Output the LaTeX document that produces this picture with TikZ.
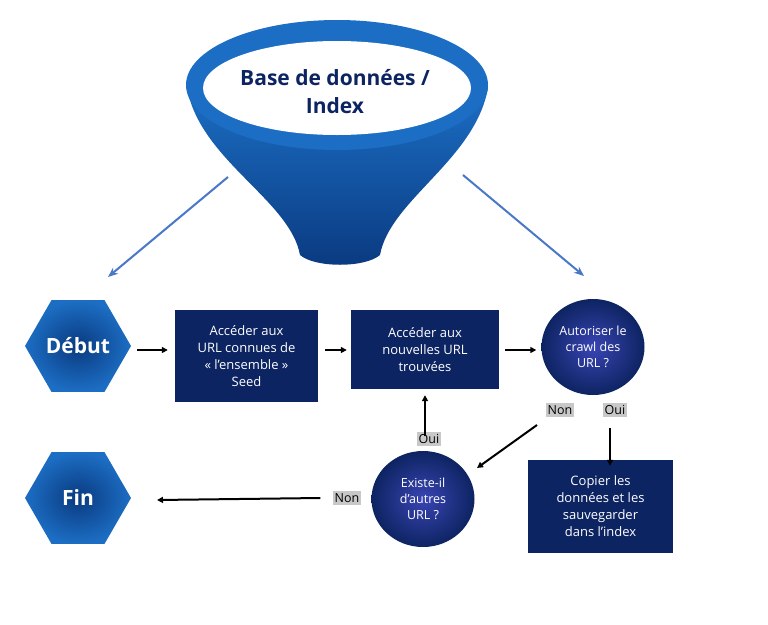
\documentclass[tikz,border=0pt]{standalone}
\usepackage{fontspec}
\setmainfont{Open Sans}
\usetikzlibrary{shapes.geometric,arrows.meta}
\definecolor{navy}{HTML}{0D2462}
\definecolor{hexblue}{HTML}{1C6EC4}
\definecolor{hexdark}{HTML}{0A3A80}
\definecolor{arrowblue}{HTML}{4A78C8}
\definecolor{labelgray}{HTML}{C8C8C8}
\begin{document}
\begin{tikzpicture}[
    x=1pt, y=-1pt,
    hexa/.style={regular polygon, regular polygon sides=6, minimum size=106pt, inner sep=0pt,
        inner color=hexdark, outer color=hexblue, text=white, font=\bfseries\fontsize{21}{24}\selectfont},
    boite/.style={fill=navy, text=white, align=center, font=\fontsize{13}{17}\selectfont, inner sep=0pt},
    rond/.style={ellipse, minimum width=103pt, minimum height=96pt, inner color=navy!60!blue!80!white,
        outer color=navy, text=white, align=center, font=\fontsize{12.5}{16}\selectfont, inner sep=0pt},
    etiq/.style={fill=labelgray, font=\fontsize{12.5}{14}\selectfont, inner sep=2pt},
    fleche/.style={-{Triangle[length=6pt,width=6pt]}, line width=2pt},
    bleue/.style={-{Stealth[length=10pt,width=8pt]}, arrowblue, line width=2pt}]
    \useasboundingbox (0,0) rectangle (768,624);

    % Entonnoir
    \shade[top color=hexblue, bottom color=hexdark] (187,88) .. controls (200,160) and (290,200) .. (300,255)
        .. controls (315,268) and (365,268) .. (380,255)
        .. controls (390,200) and (475,160) .. (488,88) -- cycle;
    \fill[hexblue] (337,85) ellipse (151 and 65);
    \fill[white] (337,88) ellipse (134 and 47);
    \node[text=navy, align=center, font=\bfseries\fontsize{21}{28}\selectfont] (base) at (335,92)
        {Base de données /\\Index};

    % Fleches bleues
    \coordinate (hg) at (228,177);
    \coordinate (bg) at (108,277);
    \coordinate (hd) at (463,175);
    \coordinate (bd) at (584,276);
    \draw[bleue] (hg) -- (bg);
    \draw[bleue] (hd) -- (bd);

    % Etapes
    \node[hexa] (debut) at (78,346) {Début};
    \node[hexa] (fin) at (78,498) {Fin};
    \node[boite, minimum width=143pt, minimum height=92pt] (acces) at (246.5,356) {Accéder aux\\URL connues de\\« l'ensemble »\\Seed};
    \node[boite, minimum width=148pt, minimum height=79pt] (nouv) at (425,349.5) {Accéder aux\\nouvelles URL\\trouvées};
    \node[rond] (crawl) at (593,347) {Autoriser le\\crawl des\\URL ?};
    \node[rond] (existe) at (423,499) {Existe-il\\d'autres\\URL ?};
    \node[boite, minimum width=145pt, minimum height=93pt] (copier) at (600.5,506.5) {Copier les\\données et les\\sauvegarder\\dans l'index};

    % Etiquettes
    \node[etiq] (non1) at (560,410) {Non};
    \node[etiq] (oui1) at (615,410) {Oui};
    \node[etiq] (oui2) at (429,439) {Oui};
    \node[etiq] (non2) at (347,498) {Non};

    % Fleches noires
    \draw[fleche] ([xshift=6pt]debut.east |- 0,350) -- ([xshift=-7pt]acces.west |- 0,350);
    \draw[fleche] ([xshift=7pt]acces.east |- 0,350) -- ([xshift=-4pt]nouv.west |- 0,350);
    \draw[fleche] ([xshift=6pt]nouv.east |- 0,350) -- ([xshift=-5pt]crawl.west |- 0,350);
    \draw[fleche] ([yshift=-4pt]oui2.north -| 425,0) -- ([yshift=-6pt]nouv.south -| 425,0);
    \draw[fleche] (537,425) -- (477,468);
    \draw[fleche] (610,428) -- ([yshift=-6pt]copier.north -| 610,0);
    \draw[fleche] ([xshift=-12pt]non2.west) -- (157,500);
\end{tikzpicture}
\end{document}
